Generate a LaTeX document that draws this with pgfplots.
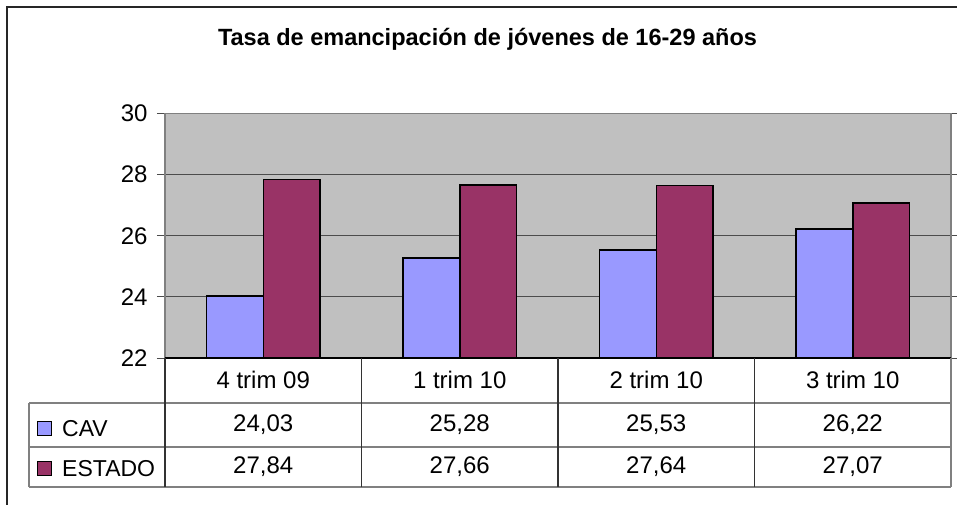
\documentclass[border=0pt]{standalone}
\usepackage{pgfplots}
\pgfplotsset{compat=1.18}
\usepackage{pgfplotstable}
\usepackage{fontspec}
\setmainfont{Liberation Sans}
\definecolor{cav}{HTML}{9999FF}
\definecolor{est}{HTML}{993366}
\definecolor{plotbg}{HTML}{C0C0C0}
\definecolor{tblline}{HTML}{808080}

\pgfplotstableread{
x cav estado
0 24.03 27.84
1 25.28 27.66
2 25.53 27.64
3 26.22 27.07
}\data

\begin{document}
\begin{tikzpicture}
\useasboundingbox (0pt,0pt) rectangle (957pt,504pt);
\begin{scope}
\clip (0pt,0pt) rectangle (957pt,504pt);
\draw[black!85, line width=2pt] (7pt,-20pt) -- (7pt,497pt) -- (990pt,497pt);
\end{scope}
\node[font=\fontsize{23.5}{28}\selectfont\bfseries, anchor=base] at (487.5pt,458.3pt) {Tasa de emancipación de jóvenes de 16-29 años};
\begin{axis}[
  at={(165pt,146pt)}, anchor=south west,
  scale only axis, width=786pt, height=244.5pt,
  xmin=-0.5, xmax=3.5, ymin=22, ymax=30,
  ytick={22,24,...,30},
  xtick=data, xticklabels={4 trim 09,1 trim 10,2 trim 10,3 trim 10},
  axis background/.style={fill=plotbg},
  axis line style={draw=tblline, line width=1.5pt},
  ymajorgrids, grid style={draw=black!70, line width=0.8pt},
  y tick style={draw=black!70, line width=0.8pt},
  x tick style={draw=none},
  tick align=outside, major tick length=8pt,
  /pgf/number format/assume math mode=true,
  yticklabel style={font=\fontsize{24}{28}\selectfont, xshift=-6pt},
  xticklabel style={font=\fontsize{24}{28}\selectfont, anchor=center, yshift=-13.5pt},
  ybar, bar width=0.29,
  legend image code/.code={\draw[#1, draw=black, line width=1.2pt] (0pt,-6.7pt) rectangle (14pt,7.3pt);},
  legend style={draw=none, fill=none, at={(rel axis cs:-0.1628,-0.2548)}, anchor=north west,
    inner sep=0pt, outer sep=0pt, font=\fontsize{23}{27}\selectfont, row sep=23.5pt, column sep=10pt,
    nodes={inner sep=0pt, text height=16.5pt, text depth=0pt}},
  legend cell align=left,
]
\addplot[fill=cav, draw=black, line width=1.5pt, bar shift=-0.145] table[x=x,y=cav]{\data};
\addplot[fill=est, draw=black, line width=1.5pt, bar shift=0.145] table[x=x,y=estado]{\data};
\legend{CAV,ESTADO}
\draw[black, line width=1.5pt] (rel axis cs:0,0) -- (rel axis cs:1,0);
\end{axis}
\begin{scope}[tblline, line width=1.5pt]
\draw (29pt,101pt) -- (951pt,101pt);
\draw (29pt,57pt) -- (951pt,57pt);
\draw (29pt,17pt) -- (951pt,17pt);
\draw (29pt,101pt) -- (29pt,17pt);
\draw[black!80] (165pt,146pt) -- (165pt,17pt);
\draw[black!80] (361.5pt,146pt) -- (361.5pt,17pt);
\draw[black!80] (558pt,146pt) -- (558pt,17pt);
\draw[black!80] (754.5pt,146pt) -- (754.5pt,17pt);
\draw (951pt,146pt) -- (951pt,17pt);
\end{scope}
\foreach \i in {0,...,3} {
  \pgfmathsetmacro\xx{165+196.5*(\i+0.5)}
  \pgfplotstablegetelem{\i}{cav}\of\data
  \node[font=\fontsize{24}{28}\selectfont, anchor=center] at (\xx pt,79pt)
    {\pgfmathprintnumber[fixed, fixed zerofill, precision=2, use comma, assume math mode=true]{\pgfplotsretval}};
  \pgfplotstablegetelem{\i}{estado}\of\data
  \node[font=\fontsize{24}{28}\selectfont, anchor=center] at (\xx pt,37pt)
    {\pgfmathprintnumber[fixed, fixed zerofill, precision=2, use comma, assume math mode=true]{\pgfplotsretval}};
}
\end{tikzpicture}
\end{document}
